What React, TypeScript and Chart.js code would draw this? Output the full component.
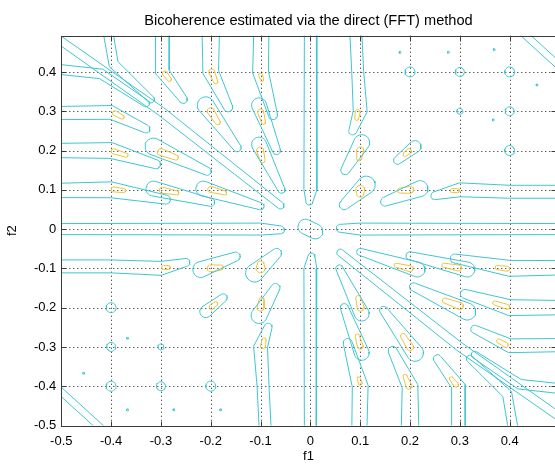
import React, { useEffect, useRef } from "react";
import { Chart, registerables } from "chart.js";

Chart.register(...registerables);

const TITLE = "Bicoherence estimated via the direct (FFT) method";
const X_TITLE = "f1";
const Y_TITLE = "f2";
const AXIS_MIN = -0.5;
const AXIS_MAX = 0.4922;
const TICK_VALUES = [-0.5, -0.4, -0.3, -0.2, -0.1, 0, 0.1, 0.2, 0.3, 0.4];
const TICK_LABELS = ["-0.5", "-0.4", "-0.3", "-0.2", "-0.1", "0", "0.1", "0.2", "0.3", "0.4"];

// Contour ridges, as spines: [f1, f2, halfWidth, f1, f2, halfWidth, ...]
// (a single vertex is a small closed loop)
const LOW_AXES = [
  [-0.53, 0.0, 0.011, -0.1, 0.0, 0.012, -0.06, -0.002, 0.008],
  [0.06, 0.002, 0.008, 0.1, 0.0, 0.012, 0.53, 0.0, 0.011],
  [0.0, 0.53, 0.012, 0.0, 0.1, 0.013, -0.002, 0.07, 0.007],
  [0.002, -0.07, 0.007, 0.0, -0.1, 0.013, 0.0, -0.53, 0.012],
  [-0.01, 0.006, 0.015, 0.01, -0.006, 0.015],
];

const LOW_Q2 = [
  [-0.53, 0.098, 0.014, -0.4, 0.1, 0.016, -0.29, 0.075, 0.009],
  [-0.315, 0.103, 0.015, -0.2, 0.068, 0.008],
  [-0.215, 0.103, 0.015, -0.1, 0.058, 0.007],
  [-0.53, 0.2, 0.014, -0.4, 0.2, 0.016, -0.31, 0.165, 0.009],
  [-0.315, 0.21, 0.017, -0.207, 0.147, 0.008],
  [-0.103, 0.215, 0.015, -0.058, 0.1, 0.007],
  [-0.53, 0.295, 0.013, -0.4, 0.297, 0.014, -0.33, 0.255, 0.008],
  [-0.21, 0.315, 0.017, -0.147, 0.207, 0.008],
  [-0.103, 0.315, 0.015, -0.068, 0.2, 0.008],
  [-0.53, 0.41, 0.01, -0.42, 0.395, 0.01, -0.33, 0.32, 0.007],
  [-0.41, 0.53, 0.01, -0.395, 0.42, 0.01, -0.32, 0.33, 0.007],
  [-0.297, 0.53, 0.014, -0.297, 0.4, 0.014, -0.255, 0.33, 0.008],
  [-0.2, 0.53, 0.018, -0.2, 0.4, 0.016, -0.165, 0.31, 0.009],
  [-0.098, 0.53, 0.015, -0.1, 0.4, 0.016, -0.075, 0.29, 0.009],
  [-0.53, 0.505, 0.008, -0.3, 0.3, 0.009, -0.06, 0.06, 0.007],
];

const HIGH_Q2 = [
  [-0.395, 0.101, 0.005, -0.375, 0.098, 0.004],
  [-0.297, 0.099, 0.006, -0.268, 0.092, 0.004],
  [-0.2, 0.101, 0.006, -0.172, 0.092, 0.004],
  [-0.395, 0.198, 0.005, -0.37, 0.188, 0.004],
  [-0.3, 0.196, 0.007, -0.27, 0.182, 0.005],
  [-0.101, 0.2, 0.007, -0.096, 0.175, 0.005],
  [-0.392, 0.295, 0.005, -0.378, 0.285, 0.004],
  [-0.2, 0.3, 0.007, -0.186, 0.272, 0.005],
  [-0.1, 0.298, 0.006, -0.094, 0.272, 0.004],
  [-0.292, 0.396, 0.005, -0.283, 0.381, 0.004],
  [-0.198, 0.4, 0.006, -0.19, 0.375, 0.004],
  [-0.1, 0.392, 0.004, -0.097, 0.38, 0.003],
];

const LOW_Q4 = [
  [0.53, -0.098, 0.014, 0.4, -0.1, 0.016, 0.29, -0.075, 0.009],
  [0.315, -0.103, 0.015, 0.2, -0.068, 0.008],
  [0.215, -0.103, 0.015, 0.1, -0.058, 0.007],
  [0.53, -0.2, 0.014, 0.4, -0.2, 0.016, 0.31, -0.165, 0.009],
  [0.315, -0.21, 0.017, 0.207, -0.147, 0.008],
  [0.103, -0.215, 0.015, 0.058, -0.1, 0.007],
  [0.53, -0.295, 0.013, 0.4, -0.297, 0.014, 0.33, -0.255, 0.008],
  [0.21, -0.315, 0.017, 0.147, -0.207, 0.008],
  [0.103, -0.315, 0.015, 0.068, -0.2, 0.008],
  [0.53, -0.41, 0.01, 0.42, -0.395, 0.01, 0.33, -0.32, 0.007],
  [0.41, -0.53, 0.01, 0.395, -0.42, 0.01, 0.32, -0.33, 0.007],
  [0.297, -0.53, 0.014, 0.297, -0.4, 0.014, 0.255, -0.33, 0.008],
  [0.2, -0.53, 0.018, 0.2, -0.4, 0.016, 0.165, -0.31, 0.009],
  [0.098, -0.53, 0.015, 0.1, -0.4, 0.016, 0.075, -0.29, 0.009],
  [0.53, -0.505, 0.008, 0.3, -0.3, 0.009, 0.06, -0.06, 0.007],
];

const HIGH_Q4 = [
  [0.395, -0.101, 0.005, 0.375, -0.098, 0.004],
  [0.297, -0.099, 0.006, 0.268, -0.092, 0.004],
  [0.2, -0.101, 0.006, 0.172, -0.092, 0.004],
  [0.395, -0.198, 0.005, 0.37, -0.188, 0.004],
  [0.3, -0.196, 0.007, 0.27, -0.182, 0.005],
  [0.101, -0.2, 0.007, 0.096, -0.175, 0.005],
  [0.392, -0.295, 0.005, 0.378, -0.285, 0.004],
  [0.2, -0.3, 0.007, 0.186, -0.272, 0.005],
  [0.1, -0.298, 0.006, 0.094, -0.272, 0.004],
  [0.292, -0.396, 0.005, 0.283, -0.381, 0.004],
  [0.198, -0.4, 0.006, 0.19, -0.375, 0.004],
  [0.1, -0.392, 0.004, 0.097, -0.38, 0.003],
];

const LOW_Q1 = [
  [0.09, 0.53, 0.012, 0.095, 0.4, 0.012, 0.1, 0.3, 0.014, 0.085, 0.25, 0.008],
  [0.53, 0.095, 0.013, 0.4, 0.095, 0.013, 0.3, 0.1, 0.014, 0.25, 0.085, 0.008],
  [0.112, 0.112, 0.018, 0.068, 0.062, 0.01],
  [0.103, 0.22, 0.016, 0.07, 0.15, 0.009],
  [0.22, 0.103, 0.016, 0.15, 0.07, 0.009],
  [0.21, 0.21, 0.012, 0.175, 0.175, 0.008],
  [0.2, 0.4, 0.01],
  [0.3, 0.4, 0.009],
  [0.4, 0.4, 0.01],
  [0.4, 0.3, 0.009],
  [0.4, 0.2, 0.01],
  [0.3, 0.3, 0.006],
  [0.4, 0.53, 0.007, 0.53, 0.38, 0.007],
  [0.18, 0.45, 0.002],
  [0.277, 0.45, 0.002],
  [0.369, 0.457, 0.002],
  [0.455, 0.367, 0.002],
  [0.367, 0.278, 0.002],
];

const HIGH_Q1 = [
  [0.095, 0.298, 0.005, 0.093, 0.282, 0.004],
  [0.1, 0.2, 0.007, 0.098, 0.18, 0.005],
  [0.1, 0.1, 0.009, 0.1, 0.09, 0.007],
  [0.2, 0.1, 0.007, 0.18, 0.098, 0.005],
  [0.295, 0.098, 0.004, 0.285, 0.098, 0.004],
  [0.198, 0.198, 0.005, 0.19, 0.19, 0.004],
];

const LOW_Q3 = [
  [-0.09, -0.53, 0.012, -0.095, -0.4, 0.012, -0.1, -0.3, 0.014, -0.085, -0.25, 0.008],
  [-0.53, -0.095, 0.013, -0.4, -0.095, 0.013, -0.3, -0.1, 0.014, -0.25, -0.085, 0.008],
  [-0.112, -0.112, 0.018, -0.068, -0.062, 0.01],
  [-0.103, -0.22, 0.016, -0.07, -0.15, 0.009],
  [-0.22, -0.103, 0.016, -0.15, -0.07, 0.009],
  [-0.21, -0.21, 0.012, -0.175, -0.175, 0.008],
  [-0.2, -0.4, 0.01],
  [-0.3, -0.4, 0.009],
  [-0.4, -0.4, 0.01],
  [-0.4, -0.3, 0.009],
  [-0.4, -0.2, 0.01],
  [-0.3, -0.3, 0.006],
  [-0.4, -0.53, 0.007, -0.53, -0.38, 0.007],
  [-0.367, -0.46, 0.002],
  [-0.274, -0.46, 0.002],
  [-0.18, -0.46, 0.002],
  [-0.455, -0.367, 0.002],
  [-0.367, -0.278, 0.002],
];

const HIGH_Q3 = [
  [-0.095, -0.298, 0.005, -0.093, -0.282, 0.004],
  [-0.1, -0.2, 0.007, -0.098, -0.18, 0.005],
  [-0.1, -0.1, 0.009, -0.1, -0.09, 0.007],
  [-0.2, -0.1, 0.007, -0.18, -0.098, 0.005],
  [-0.295, -0.098, 0.004, -0.285, -0.098, 0.004],
  [-0.198, -0.198, 0.005, -0.19, -0.19, 0.004],
];

const LOW_COLOR = "#3fc6d0";
const HIGH_COLOR = "#f0c23a";
const FONT = "'Liberation Sans', Arial, Helvetica, sans-serif";

// plot-area geometry in the picture
const CANVAS_W = 575;
const CANVAS_H = 465;
const PLOT_LEFT = 61.3;
const PLOT_RIGHT = 555.6;
const PLOT_BOTTOM = 425.5;
const ASPECT = (PLOT_BOTTOM - 35.7) / (PLOT_RIGHT - PLOT_LEFT);

type P = { x: number; y: number; w: number };

function outline(spec: number[]) {
  const V: P[] = [];
  for (let i = 0; i + 2 < spec.length; i += 3) V.push({ x: spec[i], y: spec[i + 1] * ASPECT, w: spec[i + 2] });
  const out: { x: number; y: number }[] = [];
  const N = 12;
  if (V.length === 1) {
    const c = V[0];
    for (let i = 0; i <= 2 * N; i++) {
      const t = (Math.PI * i) / N;
      out.push({ x: c.x + c.w * Math.cos(t), y: (c.y + c.w * Math.sin(t)) / ASPECT });
    }
    return out;
  }
  const T = V.map((_, i) => {
    const a = V[Math.max(0, i - 1)], b = V[Math.min(V.length - 1, i + 1)];
    const dx = b.x - a.x, dy = b.y - a.y;
    const l = Math.hypot(dx, dy) || 1;
    return { x: dx / l, y: dy / l };
  });
  const push = (x: number, y: number) => out.push({ x, y: y / ASPECT });
  V.forEach((p, i) => push(p.x - T[i].y * p.w, p.y + T[i].x * p.w));
  const e = V[V.length - 1], te = T[T.length - 1];
  for (let i = 1; i < N; i++) {
    const th = Math.PI / 2 - (Math.PI * i) / N;
    const c = Math.cos(th), s = Math.sin(th);
    push(e.x + e.w * (te.x * c - te.y * s), e.y + e.w * (te.y * c + te.x * s));
  }
  for (let i = V.length - 1; i >= 0; i--) {
    const p = V[i];
    push(p.x + T[i].y * p.w, p.y - T[i].x * p.w);
  }
  const b = V[0], tb = T[0];
  for (let i = 1; i < N; i++) {
    const th = -Math.PI / 2 - (Math.PI * i) / N;
    const c = Math.cos(th), s = Math.sin(th);
    push(b.x + b.w * (tb.x * c - tb.y * s), b.y + b.w * (tb.y * c + tb.x * s));
  }
  out.push({ ...out[0] });
  return out;
}

function makeSets(list: number[][], color: string) {
  return list.map((r) => ({
    type: "scatter" as const,
    data: outline(r),
    showLine: true,
    borderColor: color,
    backgroundColor: color,
    borderWidth: 1,
    pointRadius: 0,
    fill: false,
    tension: 0,
  }));
}

const framePlugin = {
  id: "matlabFrame",
  beforeDatasetsDraw(chart: any) {
    const { ctx, chartArea: a, scales } = chart;
    ctx.save();
    ctx.strokeStyle = "#1a1a1a";
    ctx.lineWidth = 1;
    ctx.setLineDash([1, 3]);
    TICK_VALUES.forEach((v) => {
      if (v <= AXIS_MIN) return;
      const x = Math.round(scales.x.getPixelForValue(v)) + 0.5;
      ctx.beginPath();
      ctx.moveTo(x, a.top);
      ctx.lineTo(x, a.bottom);
      ctx.stroke();
      const y = Math.round(scales.y.getPixelForValue(v)) + 0.5;
      ctx.beginPath();
      ctx.moveTo(a.left, y);
      ctx.lineTo(a.right, y);
      ctx.stroke();
    });
    ctx.restore();
  },
  afterDatasetsDraw(chart: any) {
    const { ctx, chartArea: a, scales } = chart;
    ctx.save();
    ctx.strokeStyle = "#3a3a3a";
    ctx.lineWidth = 1;
    ctx.setLineDash([]);
    const L = Math.round(a.left) + 0.5, R = Math.round(a.right) + 0.5;
    const T = Math.round(a.top) + 0.5, B = Math.round(a.bottom) + 0.5;
    ctx.strokeRect(L, T, R - L, B - T);
    const tick = 5;
    TICK_VALUES.forEach((v) => {
      const x = Math.round(scales.x.getPixelForValue(v)) + 0.5;
      ctx.beginPath();
      ctx.moveTo(x, B); ctx.lineTo(x, B - tick);
      ctx.moveTo(x, T); ctx.lineTo(x, T + tick);
      ctx.stroke();
      const y = Math.round(scales.y.getPixelForValue(v)) + 0.5;
      ctx.beginPath();
      ctx.moveTo(L, y); ctx.lineTo(L + tick, y);
      ctx.moveTo(R, y); ctx.lineTo(R - tick, y);
      ctx.stroke();
    });
    ctx.restore();
  },
};

export default function App() {
  const ref = useRef<HTMLCanvasElement | null>(null);
  useEffect(() => {
    if (!ref.current) return;
    const datasets = [
      ...makeSets(LOW_AXES, LOW_COLOR),
      ...makeSets(LOW_Q1, LOW_COLOR),
      ...makeSets(LOW_Q2, LOW_COLOR),
      ...makeSets(LOW_Q3, LOW_COLOR),
      ...makeSets(LOW_Q4, LOW_COLOR),
      ...makeSets(HIGH_Q1, HIGH_COLOR),
      ...makeSets(HIGH_Q2, HIGH_COLOR),
      ...makeSets(HIGH_Q3, HIGH_COLOR),
      ...makeSets(HIGH_Q4, HIGH_COLOR),
    ];
    const tickFont = { family: FONT, size: 13 };
    const chart = new Chart(ref.current, {
      type: "scatter",
      data: { datasets },
      plugins: [framePlugin],
      options: {
        animation: false,
        responsive: false,
        devicePixelRatio: 1,
        layout: { padding: { left: 0, top: 0, bottom: 0, right: CANVAS_W - PLOT_RIGHT } },
        plugins: {
          legend: { display: false },
          tooltip: { enabled: false },
          title: {
            display: true,
            fullSize: false,
            text: TITLE,
            color: "#000",
            font: { family: FONT, size: 14.6, weight: "normal" },
            padding: { top: 12, bottom: 6.2 },
          },
        },
        scales: {
          x: {
            type: "linear",
            min: AXIS_MIN,
            max: AXIS_MAX,
            afterBuildTicks: (s: any) => { s.ticks = TICK_VALUES.map((v) => ({ value: v })); },
            afterFit: (s: any) => { s.height = CANVAS_H - PLOT_BOTTOM; },
            grid: { display: false, drawTicks: false },
            border: { display: false },
            ticks: {
              color: "#000",
              font: tickFont,
              padding: 8,
              maxRotation: 0,
              autoSkip: false,
              callback: (_v: any, i: number) => TICK_LABELS[i],
            },
            title: { display: true, text: X_TITLE, color: "#000", font: tickFont, padding: { top: 0, bottom: 1 } },
          },
          y: {
            type: "linear",
            min: AXIS_MIN,
            max: AXIS_MAX,
            afterBuildTicks: (s: any) => { s.ticks = TICK_VALUES.map((v) => ({ value: v })); },
            afterFit: (s: any) => { s.width = PLOT_LEFT; },
            grid: { display: false, drawTicks: false },
            border: { display: false },
            ticks: {
              color: "#000",
              font: tickFont,
              padding: 5,
              autoSkip: false,
              callback: (_v: any, i: number) => TICK_LABELS[i],
            },
            title: { display: true, text: Y_TITLE, color: "#000", font: tickFont, padding: { top: 5, bottom: 0 } },
          },
        },
      } as any,
    });
    return () => chart.destroy();
  }, []);
  return (
    <div style={{ position: "fixed", left: 0, top: 0, width: 555, height: 465, overflow: "hidden", background: "#fff" }}>
      <canvas ref={ref} width={CANVAS_W} height={CANVAS_H} style={{ display: "block", width: CANVAS_W, height: CANVAS_H }} />
    </div>
  );
}
